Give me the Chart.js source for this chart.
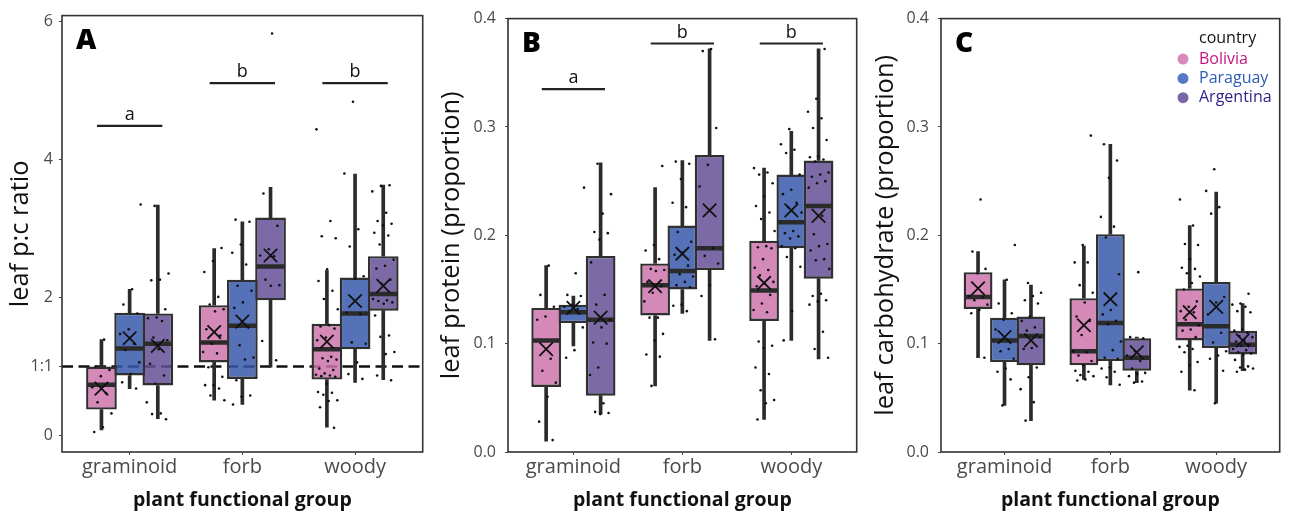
<!DOCTYPE html>
<html>
<head>
<meta charset="utf-8">
<script src="https://cdn.jsdelivr.net/npm/chart.js@4.4.1/dist/chart.umd.min.js"></script>
<style>
  html, body { margin: 0; padding: 0; background: #fff; }
  #wrap { position: relative; width: 1291px; height: 512px; overflow: hidden; }
  .panel { position: absolute; top: 0; height: 512px; }
</style>
</head>
<body>
<div id="wrap">
  <div class="panel" style="left:0;width:434px"><canvas id="chartA" width="434" height="512"></canvas></div>
  <div class="panel" style="left:434px;width:434px"><canvas id="chartB" width="434" height="512"></canvas></div>
  <div class="panel" style="left:868px;width:423px"><canvas id="chartC" width="423" height="512"></canvas></div>
</div>
<script>
const groups = ["graminoid", "forb", "woody"];
const countries = ["Bolivia", "Paraguay", "Argentina"];
const sigLetters = ["a", "b", "b"];

// box stats: [lower whisker, q1, median, q3, upper whisker], rows = country, cols = group
// A: leaf p:c ratio
const pcBox = [
  [[0.08, 0.375, 0.735, 1.0, 1.39], [0.51, 1.06, 1.35, 1.89, 2.71], [0.12, 0.81, 1.25, 1.62, 2.39]],
  [[0.68, 0.87, 1.26, 1.78, 2.12], [0.45, 0.82, 1.59, 2.26, 3.10], [0.77, 1.25, 1.77, 2.29, 3.79]],
  [[0.245, 0.725, 1.33, 1.77, 3.34], [0.99, 1.96, 2.45, 3.16, 3.60], [0.81, 1.81, 2.05, 2.60, 3.63]]
];
const pcMean = [[0.68, 1.50, 1.36], [1.41, 1.65, 1.95], [1.30, 2.61, 2.17]];
const pcPts = [
  [
    [1.39, 1.0, 0.95, 0.86, 0.70, 0.61, 0.48, 0.32, 0.12, 0.05],
    [2.72, 2.53, 2.37, 2.01, 1.90, 1.83, 1.80, 1.54, 1.45, 1.33, 1.21, 1.19, 0.99, 0.85, 0.73, 0.73, 0.68, 0.58, 0.51],
    [4.44, 3.11, 2.89, 2.86, 2.41, 2.24, 2.10, 1.98, 1.83, 1.60, 1.58, 1.55, 1.42, 1.38, 1.14, 1.12, 1.10, 1.08, 0.97, 0.95, 0.90, 0.88, 0.87, 0.86, 0.85, 0.75, 0.63, 0.62, 0.59, 0.51, 0.50, 0.41, 0.11]
  ],
  [
    [3.35, 2.12, 1.90, 1.77, 1.54, 1.47, 1.33, 1.24, 1.06, 0.89, 0.77, 0.68],
    [3.13, 3.10, 2.77, 2.65, 2.48, 2.17, 2.10, 1.93, 1.85, 1.57, 1.31, 1.13, 1.10, 0.80, 0.58, 0.56, 0.45],
    [4.84, 3.80, 2.99, 2.74, 2.31, 2.27, 1.78, 1.76, 1.35, 1.33, 1.06, 0.89, 0.82]
  ],
  [
    [3.33, 2.35, 2.26, 2.25, 1.83, 1.71, 1.70, 1.66, 1.42, 1.38, 1.25, 1.04, 0.87, 0.75, 0.48, 0.32, 0.31, 0.235],
    [5.83, 3.51, 3.04, 2.70, 2.61, 2.60, 2.26, 2.18, 2.17, 1.37, 1.09],
    [3.63, 3.62, 3.54, 3.23, 3.11, 3.07, 3.05, 2.94, 2.90, 2.77, 2.55, 2.46, 2.42, 2.26, 2.20, 1.98, 1.96, 1.95, 1.93, 1.91, 1.74, 1.45, 1.43, 1.21, 1.18, 0.87, 0.80]
  ]
];
const pcTicks = [0, 1, 2, 4, 6];
const pcSig = [4.49, 5.11, 5.11];

// B: leaf protein
const protBox = [
  [[0.010, 0.060, 0.103, 0.133, 0.172], [0.061, 0.126, 0.154, 0.174, 0.244], [0.030, 0.121, 0.149, 0.195, 0.262]],
  [[0.098, 0.119, 0.129, 0.136, 0.144], [0.128, 0.150, 0.167, 0.209, 0.269], [0.103, 0.188, 0.212, 0.256, 0.296]],
  [[0.035, 0.052, 0.122, 0.181, 0.267], [0.103, 0.168, 0.188, 0.274, 0.372], [0.086, 0.160, 0.227, 0.269, 0.372]]
];
const protMean = [[0.095, 0.153, 0.156], [0.133, 0.183, 0.223], [0.124, 0.223, 0.218]];
const protPts = [
  [
    [0.172, 0.145, 0.134, 0.125, 0.122, 0.086, 0.075, 0.064, 0.051, 0.028, 0.011],
    [0.264, 0.191, 0.186, 0.178, 0.169, 0.168, 0.167, 0.157, 0.153, 0.147, 0.139, 0.124, 0.124, 0.109, 0.103, 0.090, 0.088, 0.061],
    [0.262, 0.258, 0.256, 0.248, 0.236, 0.227, 0.221, 0.215, 0.204, 0.190, 0.189, 0.188, 0.178, 0.170, 0.168, 0.163, 0.157, 0.155, 0.153, 0.145, 0.137, 0.131, 0.129, 0.102, 0.098, 0.096, 0.078, 0.072, 0.057, 0.048, 0.045, 0.030]
  ],
  [
    [0.244, 0.165, 0.145, 0.144, 0.136, 0.134, 0.132, 0.130, 0.115, 0.094, 0.087],
    [0.268, 0.266, 0.252, 0.230, 0.226, 0.203, 0.194, 0.184, 0.182, 0.172, 0.164, 0.162, 0.157, 0.154, 0.152, 0.136, 0.135, 0.130],
    [0.298, 0.284, 0.279, 0.276, 0.256, 0.242, 0.238, 0.230, 0.226, 0.221, 0.204, 0.202, 0.199, 0.197, 0.190, 0.188, 0.180, 0.171, 0.130, 0.103]
  ],
  [
    [0.266, 0.238, 0.220, 0.203, 0.202, 0.196, 0.175, 0.145, 0.136, 0.122, 0.115, 0.101, 0.100, 0.078, 0.071, 0.045, 0.037, 0.036, 0.035],
    [0.372, 0.370, 0.299, 0.265, 0.245, 0.188, 0.181, 0.174, 0.154, 0.144, 0.104],
    [0.372, 0.326, 0.314, 0.308, 0.299, 0.288, 0.273, 0.272, 0.270, 0.268, 0.258, 0.256, 0.254, 0.250, 0.248, 0.244, 0.218, 0.201, 0.192, 0.190, 0.186, 0.178, 0.177, 0.169, 0.146, 0.144, 0.140, 0.139, 0.136, 0.111, 0.095, 0.087]
  ]
];
const propTicks = [0, 0.1, 0.2, 0.3, 0.4];
const protSig = [0.335, 0.377, 0.377];

// C: leaf carbohydrate
const carbBox = [
  [[0.087, 0.132, 0.143, 0.166, 0.185], [0.067, 0.080, 0.093, 0.142, 0.190], [0.057, 0.103, 0.118, 0.151, 0.209]],
  [[0.043, 0.083, 0.103, 0.124, 0.159], [0.062, 0.084, 0.119, 0.201, 0.284], [0.045, 0.096, 0.116, 0.157, 0.240]],
  [[0.029, 0.080, 0.107, 0.125, 0.154], [0.064, 0.075, 0.087, 0.105, 0.106], [0.075, 0.090, 0.099, 0.112, 0.137]]
];
const carbMean = [[0.151, 0.117, 0.129], [0.106, 0.141, 0.134], [0.103, 0.092, 0.103]];
const carbPts = [
  [
    [0.233, 0.185, 0.169, 0.165, 0.144, 0.143, 0.140, 0.136, 0.131, 0.128, 0.087],
    [0.292, 0.191, 0.175, 0.175, 0.154, 0.147, 0.138, 0.125, 0.121, 0.108, 0.093, 0.092, 0.089, 0.084, 0.080, 0.075, 0.074, 0.071, 0.070, 0.067, 0.066],
    [0.233, 0.209, 0.192, 0.191, 0.178, 0.170, 0.169, 0.165, 0.162, 0.156, 0.150, 0.139, 0.134, 0.130, 0.129, 0.122, 0.117, 0.113, 0.112, 0.106, 0.098, 0.097, 0.095, 0.092, 0.083, 0.080, 0.074, 0.057]
  ],
  [
    [0.191, 0.159, 0.137, 0.128, 0.122, 0.113, 0.095, 0.093, 0.086, 0.077, 0.074, 0.067, 0.043],
    [0.284, 0.269, 0.253, 0.217, 0.208, 0.198, 0.164, 0.131, 0.127, 0.121, 0.118, 0.102, 0.094, 0.087, 0.086, 0.078, 0.077, 0.074, 0.069, 0.062],
    [0.261, 0.241, 0.226, 0.220, 0.143, 0.138, 0.127, 0.110, 0.101, 0.093, 0.089, 0.086, 0.075, 0.045]
  ],
  [
    [0.156, 0.147, 0.144, 0.140, 0.137, 0.125, 0.121, 0.115, 0.112, 0.106, 0.096, 0.095, 0.078, 0.069, 0.058, 0.046, 0.029],
    [0.166, 0.106, 0.105, 0.093, 0.089, 0.084, 0.077, 0.073, 0.072, 0.070, 0.065, 0.064],
    [0.146, 0.137, 0.136, 0.134, 0.130, 0.129, 0.113, 0.112, 0.110, 0.107, 0.106, 0.103, 0.102, 0.099, 0.098, 0.095, 0.094, 0.092, 0.091, 0.090, 0.085, 0.079, 0.078, 0.077, 0.076, 0.074]
  ]
];

const boxFill = ["rgba(204,116,171,0.85)", "rgba(55,89,173,0.85)", "rgba(100,80,150,0.85)"];
const legendDot = ["#d889bc", "#5a78c8", "#7a67aa"];
const legendText = ["#c8147f", "#2f5bb5", "#33238a"];
const dodge = [-0.25, 0, 0.25];

Chart.defaults.font.family = "'Open Sans', sans-serif";

// spread the dots sideways a little (like geom_jitter), deterministic
function jitter(i, ci, gi) {
  const u = ((i + 1) * 0.6180339887 + ci * 0.37 + gi * 0.21) % 1;
  return (u - 0.5) * 0.2;
}

// half a box width in pixels, for the median stroke
function halfBox(ctx) {
  const s = ctx.chart.scales.x;
  return s.getPixelForValue(1.125) - s.getPixelForValue(1);
}

function makeDatasets(box, means, pts, sig, refLine) {
  const ds = [];
  countries.forEach((c, ci) => {
    const whisk = [], boxes = [], meds = [], dots = [];
    groups.forEach((g, gi) => {
      const x = gi + 1 + dodge[ci];
      const [lo, q1, med, q3, hi] = box[ci][gi];
      whisk.push({ x, y: [lo, q1] }, { x, y: [q3, hi] });
      boxes.push({ x, y: [q1, q3] });
      meds.push({ x, y: med });
      pts[ci][gi].forEach((v, i) => dots.push({ x: x + jitter(i, ci, gi), y: v }));
    });
    ds.push({ type: "bar", label: c + " whiskers", data: whisk, backgroundColor: "#2b2b2b", barThickness: 3, order: 9 });
    ds.push({ type: "bar", label: c, data: boxes, backgroundColor: boxFill[ci], borderColor: "#303030",
              borderWidth: 2.4, borderSkipped: false, order: 7 });
    ds.push({ type: "scatter", data: meds, pointStyle: "line", pointRadius: halfBox,
              pointBorderColor: "#2b2b2b", pointBorderWidth: 4.5, order: 6 });
    ds.push({ type: "scatter", data: dots, pointRadius: 1.3, pointBackgroundColor: "#111",
              pointBorderWidth: 0, order: 5 });
  });

  const m = [];
  countries.forEach((c, ci) => groups.forEach((g, gi) => m.push({ x: gi + 1 + dodge[ci], y: means[ci][gi] })));
  ds.push({ type: "scatter", data: m, pointStyle: "crossRot", pointRadius: 9.5,
            pointBorderColor: "#111", pointBorderWidth: 1.8, order: 4 });

  if (sig) {
    sig.forEach((v, gi) => {
      ds.push({ type: "line", data: [{ x: gi + 0.71, y: v }, { x: gi + 1.29, y: v }],
                borderColor: "#222", borderWidth: 2.2, pointRadius: 0, order: 3 });
    });
  }
  if (refLine !== undefined) {
    ds.push({ type: "line", data: [{ x: 0.4, y: refLine }, { x: 3.6, y: refLine }],
              borderColor: "#111", borderWidth: 2.4, borderDash: [11, 5.5], pointRadius: 0, order: 10 });
  }
  return ds;
}

// frame, panel letter, significance letters, legend
const deco = {
  id: "deco",
  afterDatasetsDraw(chart, args, o) {
    const { ctx, chartArea: a, scales } = chart;
    ctx.save();
    ctx.strokeStyle = "#333";
    ctx.lineWidth = 1.6;
    ctx.strokeRect(a.left, a.top, a.right - a.left, a.bottom - a.top);

    ctx.fillStyle = "#111";
    ctx.textAlign = "center";
    ctx.textBaseline = "alphabetic";
    ctx.font = "18px 'Open Sans'";
    (o.sig || []).forEach((v, gi) => {
      ctx.fillText(sigLetters[gi], scales.x.getPixelForValue(gi + 1), scales.y.getPixelForValue(v) - 6);
    });

    ctx.textAlign = "left";
    ctx.fillStyle = "#000";
    ctx.font = "800 28px 'Open Sans'";
    ctx.fillText(o.letter, a.left + 14, a.top + 33);

    if (o.legend) {
      ctx.font = "16px 'Open Sans'";
      ctx.textBaseline = "middle";
      ctx.fillStyle = "#111";
      ctx.fillText("country", a.left + 258, a.top + 20);
      countries.forEach((c, i) => {
        const y = a.top + 40.5 + i * 19.3;
        ctx.beginPath();
        ctx.arc(a.left + 242, y, 5.5, 0, Math.PI * 2);
        ctx.fillStyle = legendDot[i];
        ctx.fill();
        ctx.fillStyle = legendText[i];
        ctx.fillText(c, a.left + 258, y);
      });
    }
    ctx.restore();
  }
};

function makeChart(id, datasets, cfg) {
  return new Chart(document.getElementById(id), {
    type: "bar",
    data: { datasets },
    options: {
      responsive: false,
      animation: false,
      events: [],
      layout: { padding: { left: 0, right: cfg.padRight, top: cfg.padTop, bottom: 0 } },
      datasets: { bar: { grouped: false, barPercentage: 1.09, categoryPercentage: 1 } },
      plugins: { legend: { display: false }, tooltip: { enabled: false }, deco: cfg.deco },
      scales: {
        x: {
          type: "linear", min: 0.4, max: 3.6, offset: false,
          afterBuildTicks: s => { s.ticks = [1, 2, 3].map(v => ({ value: v })); },
          afterFit: s => { s.height = 60; },
          grid: { offset: false, drawOnChartArea: false, tickLength: 3, color: "#444" },
          border: { display: false },
          ticks: { callback: v => groups[v - 1], color: "#4a4a4a", font: { size: 20 }, padding: 0,
                   autoSkip: false, maxRotation: 0 },
          title: { display: true, text: "plant functional group", color: "#111",
                   font: { size: 19.5, weight: "bold" }, padding: { top: 0, bottom: 0 } }
        },
        y: {
          type: "linear", min: cfg.yMin, max: cfg.yMax,
          afterBuildTicks: s => { s.ticks = cfg.yTicks.map(v => ({ value: v })); },
          afterFit: s => { s.width = cfg.yWidth; },
          grid: { drawOnChartArea: false, tickLength: 3, color: "#444" },
          border: { display: false },
          ticks: { callback: cfg.yLabel, color: "#4a4a4a", font: { size: 16 }, padding: cfg.yPad },
          title: { display: true, text: cfg.yTitle, color: "#111", font: { size: 25.5 },
                   padding: { top: cfg.titlePad, bottom: 0 } }
        }
      }
    },
    plugins: [deco]
  });
}

makeChart("chartA", makeDatasets(pcBox, pcMean, pcPts, pcSig, 1), {
  padRight: 10, padTop: 13, yMin: -0.24, yMax: 6.09, yTicks: pcTicks,
  yLabel: v => (v === 1 ? "1:1" : String(v)), yWidth: 62, yPad: 6, titlePad: 5.5,
  yTitle: "leaf p:c ratio", deco: { letter: "A", sig: pcSig }
});

makeChart("chartB", makeDatasets(protBox, protMean, protPts, protSig), {
  padRight: 11, padTop: 12, yMin: 0, yMax: 0.4, yTicks: propTicks,
  yLabel: v => v.toFixed(1), yWidth: 74, yPad: 9, titlePad: 2.5,
  yTitle: "leaf protein (proportion)", deco: { letter: "B", sig: protSig }
});

makeChart("chartC", makeDatasets(carbBox, carbMean, carbPts), {
  padRight: 1, padTop: 12, yMin: 0, yMax: 0.4, yTicks: propTicks,
  yLabel: v => v.toFixed(1), yWidth: 73, yPad: 9, titlePad: 2.5,
  yTitle: "leaf carbohydrate (proportion)", deco: { letter: "C", legend: true }
});
</script>
</body>
</html>
